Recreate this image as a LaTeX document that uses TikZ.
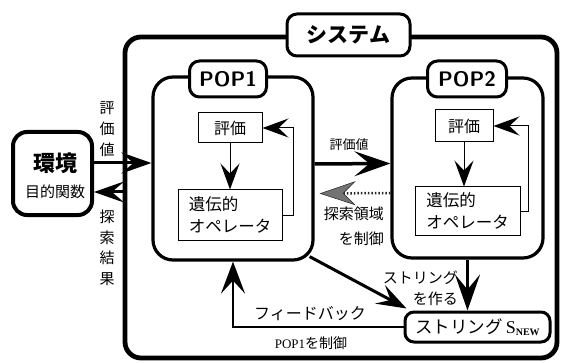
\documentclass[tikz,border=0pt]{standalone}
\usepackage{fontspec}
\setmainfont{Liberation Serif}
\newfontfamily\jp{Noto Sans CJK JP}
\usetikzlibrary{arrows.meta,calc}
\begin{document}
\begin{tikzpicture}[x=1pt,y=-1pt,
  sysbox/.style={draw, line width=4.8pt, rounded corners=16pt},
  popbox/.style={draw, line width=3.2pt, rounded corners=20pt},
  lblbox/.style={draw, line width=3pt, rounded corners=10pt, fill=white, inner sep=0pt},
  innerbox/.style={draw, line width=1pt, fill=white, inner sep=3pt},
  jtxt/.style={font=\jp\fontsize{15}{20}\selectfont, inner sep=0pt},
  bigarr/.style={line width=3pt, -{Stealth[length=30pt,width=21pt,inset=12pt]}},
  hugearr/.style={line width=3.5pt, -{Stealth[length=36pt,width=25pt,inset=15pt]}},
  smallarr/.style={line width=1pt, -{Stealth[length=26pt,width=19pt,inset=10pt,line width=1pt]}},
  fbarr/.style={line width=2.5pt, -{Stealth[length=32pt,width=24pt,inset=13pt]}},
  hatcharr/.style={line width=2.5pt, dash pattern=on 1.5pt off 2pt, black!85,
     -{Stealth[length=36pt,width=24pt,inset=12pt,fill=black!55,line width=0.5pt]}},
]
\useasboundingbox (0,0) rectangle (561,363);

% system
\node[sysbox, minimum width=432pt, minimum height=321pt] (sys) at (341,197.5) {};
\node[lblbox, minimum width=123pt, minimum height=42pt, font=\jp\bfseries\fontsize{21}{24}\selectfont] (sysl) at (348.5,35) {システム};

% environment
\node[draw, line width=4pt, rounded corners=14pt, minimum width=79pt, minimum height=83pt] (env) at (52.5,173.5) {};
\node[font=\jp\bfseries\fontsize{22}{24}\selectfont, inner sep=0pt] (envt) at (55,163) {環境};
\node[font=\jp\fontsize{15}{18}\selectfont, inner sep=0pt] (envs) at (55,192) {目的関数};

% POP1
\node[popbox, minimum width=160pt, minimum height=183pt] (pop1) at (233,168.5) {};
\node[lblbox, minimum width=77pt, minimum height=36pt, font=\sffamily\bfseries\fontsize{21}{22}\selectfont] (pop1l) at (228,79) {POP1};
\node[innerbox, minimum width=64pt, minimum height=30pt, font=\jp\fontsize{16}{20}\selectfont] (e1) at (230,128) {評価};
\node[innerbox, minimum width=104pt, minimum height=50pt, align=left, font=\jp\fontsize{16.5}{22}\selectfont] (o1) at (230,215) {遺伝的\\オペレータ};
\draw[smallarr] (e1) -- (o1);
\draw[smallarr] (o1.east) -- ++(11,0) |- (e1.east);

% POP2
\node[popbox, minimum width=151pt, minimum height=180pt] (pop2) at (467.5,168) {};
\node[lblbox, minimum width=79pt, minimum height=36pt, font=\sffamily\bfseries\fontsize{21}{22}\selectfont] (pop2l) at (467,79) {POP2};
\node[innerbox, minimum width=58pt, minimum height=32pt, font=\jp\fontsize{16}{20}\selectfont] (e2) at (464,126) {評価};
\node[innerbox, minimum width=105pt, minimum height=48pt, align=left, font=\jp\fontsize{16.5}{22}\selectfont] (o2) at (467.5,211) {遺伝的\\オペレータ};
\draw[smallarr] (e2) -- (e2 |- o2.north);
\draw[smallarr] (o2.east) -- ++(8,0) |- (e2.east);

% string S_new
\node[draw, line width=3pt, rounded corners=9pt, minimum width=145pt, minimum height=30pt, inner sep=0pt] (snew) at (477.5,327)
  {{\jp\fontsize{17.5}{20}\selectfont ストリング}\hspace{3pt}{\fontsize{18}{20}\selectfont S}{\fontsize{10}{12}\selectfont\bfseries\raisebox{-2pt}{NEW}}};

% environment arrows
\draw[bigarr] (env.east |- envt) -- (pop1.west |- envt);
\draw[bigarr] (sys.west |- envs) -- (env.east |- envs);
\node[jtxt, align=center, font=\jp\fontsize{15}{21}\selectfont] (lab1) at (107,129) {評\\価\\値};
\node[jtxt, align=center, font=\jp\fontsize{15}{20.5}\selectfont] (lab2) at (107,248) {探\\索\\結\\果};

% POP1 -> POP2
\draw[hugearr] ($(pop1.east)+(0,-4.5)$) -- ($(pop2.west)+(0,-4.5)$);
\node[font=\jp\fontsize{13}{16}\selectfont, inner sep=0pt] (lab3) at (349,145) {評価値};
\draw[hatcharr] ($(pop2.west)+(0,25)$) -- ($(pop1.east)+(5,25)$);
\node[align=right, anchor=north east, font=\jp\fontsize{15}{25}\selectfont, inner sep=0pt] (lab4) at (384,207) {探索領域\\を制御};

% to string
\draw[bigarr] ($(pop1.south east)+(-5,-5)$) -- ($(snew.north west)+(3,-2)$);
\draw[hugearr] (pop2.south) -- (pop2.south |- snew.north);
\node[align=right, anchor=north east, font=\jp\fontsize{15}{21}\selectfont, inner sep=0pt] (lab5) at (458,271) {ストリング\\を作る};

% feedback
\draw[fbarr] (snew.west) -| (pop1.south);
\node[font=\jp\fontsize{16}{18}\selectfont, inner sep=0pt] (lab6) at (310,314) {フィードバック};
\node[inner sep=0pt] (lab7) at (311,343) {{\fontsize{13}{15}\selectfont POP1}{\jp\fontsize{14}{16}\selectfont を制御}};
\end{tikzpicture}
\end{document}
